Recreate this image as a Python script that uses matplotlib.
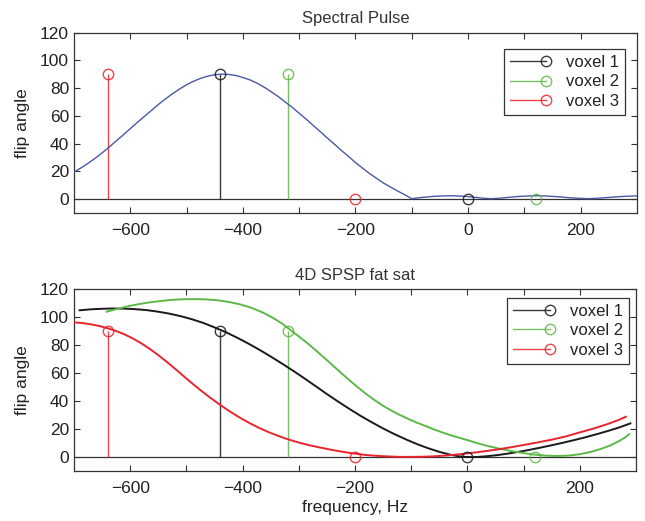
import numpy as np
import matplotlib
matplotlib.use("Agg")
import matplotlib.pyplot as plt
from matplotlib.legend_handler import HandlerLine2D
from matplotlib.lines import Line2D

plt.rcParams["font.family"] = ["Liberation Sans", "DejaVu Sans"]

# voxel frequencies (Hz): water at 0 flip, fat at 90 flip
voxel_labels = ["voxel 1", "voxel 2", "voxel 3"]
voxel_water = [0, 120, -200]
voxel_fat = [-440, -320, -640]
stem_values = [90, 0]

# spectral pulse profile (top panel)
pulse_freq = [-700, -687, -675, -662, -650, -637, -625, -612, -600, -587, -575, -562,
              -550, -537, -525, -512, -500, -487, -475, -462, -450, -437, -425, -412,
              -400, -387, -375, -362, -350, -337, -325, -312, -300, -287, -275, -262,
              -250, -237, -225, -212, -200, -187, -175, -162, -150, -137, -125, -112,
              -100, -88, -75, -60, -45, -30, -15, 0, 12, 25, 40, 55, 70, 90, 110, 125,
              140, 160, 180, 200, 215, 230, 250, 270, 285, 300]
pulse_flip = [19.5, 22.6, 25.8, 29.5, 33.3, 37.6, 41.9, 46.4, 50.8, 55.4, 59.6, 64.0,
              68.2, 72.3, 75.9, 79.4, 82.4, 85.0, 87.0, 88.6, 89.6, 90, 89.8, 89,
              87.6, 85.8, 83.5, 80.6, 77.4, 73.8, 70, 66, 61.8, 57.4, 53, 48.4,
              44, 39.4, 35, 30.6, 26.3, 22.2, 18.4, 14.8, 11.5, 8.5, 5.8, 3.0,
              0.3, 0.9, 1.5, 2.0, 2.3, 2.4, 2.2, 1.8, 1.3, 0.7, 0.3, 0.6, 1.2, 1.9, 2.3, 2.4,
              2.2, 1.7, 1.0, 0.5, 0.3, 0.6, 1.2, 1.8, 2.1, 2.3]

# 4D SPSP fat sat profiles (bottom panel)
v1_freq = [-690, -670, -650, -630, -610, -590, -570, -550, -530, -510, -490, -470,
           -450, -430, -410, -390, -370, -350, -330, -310, -290, -270, -250, -230,
           -210, -190, -170, -150, -130, -110, -90, -70, -50, -30, -15, 0, 15, 30,
           50, 70, 90, 110, 130, 150, 170, 190, 210, 230, 250, 270, 290]
v1_flip = [105.0, 105.7, 106.1, 106.3, 106.2, 105.8, 105.1, 104.0, 102.6, 100.8, 98.6, 96.0,
           92.8, 89.4, 85.5, 81.3, 76.8, 72.0, 67.0, 61.8, 56.4, 50.8, 45.2, 39.8,
           34.6, 29.6, 25.0, 20.6, 16.6, 12.9, 9.5, 6.5, 3.9, 1.8, 0.7, 0.2, 0.2, 0.6,
           1.4, 2.5, 3.8, 5.3, 6.9, 8.6, 10.4, 12.3, 14.3, 16.5, 18.8, 21.3, 24.2]

v2_freq = [-642, -625, -605, -585, -565, -545, -525, -505, -485, -465, -445, -425,
           -405, -385, -365, -345, -330, -315, -300, -285, -270, -255, -240, -225,
           -210, -195, -180, -165, -150, -135, -120, -105, -90, -75, -60, -45, -30,
           -15, 0, 20, 40, 60, 80, 100, 120, 140, 160, 180, 200, 220, 240, 255, 270,
           280, 288]
v2_flip = [104.0, 105.8, 107.8, 109.4, 110.7, 111.7, 112.5, 112.9, 113.0, 112.8, 112.2, 111.0,
           109.3, 106.9, 103.6, 99.4, 95.6, 91.0, 86.4, 81.6, 76.5, 71.2, 65.8, 60.4,
           55.1, 50.0, 45.2, 40.8, 36.8, 33.3, 30.2, 27.4, 24.8, 22.4, 20.0, 17.8, 15.8,
           14.0, 12.3, 9.8, 7.7, 5.9, 4.3, 3.0, 1.9, 1.2, 0.9, 1.2, 2.2, 3.9, 6.3, 8.6, 11.6,
           14.0, 16.5]

v3_freq = [-700, -685, -670, -655, -640, -625, -610, -595, -580, -565, -550, -535,
           -520, -505, -490, -475, -460, -445, -430, -415, -400, -385, -370, -355,
           -340, -325, -310, -295, -280, -260, -240, -220, -200, -180, -160, -140,
           -120, -100, -80, -60, -40, -20, 0, 25, 50, 75, 100, 125, 150, 175, 200,
           225, 250, 270, 282]
v3_flip = [96.4, 95.9, 95.0, 93.8, 92.2, 90.2, 87.8, 84.8, 81.4, 77.4, 73.0, 68.2,
           63.2, 58.0, 52.9, 48.0, 43.3, 38.9, 34.7, 30.8, 27.2, 23.9, 20.9, 18.2,
           15.8, 13.6, 11.7, 10.0, 8.5, 6.8, 5.2, 3.8, 2.6, 1.6, 1.0, 0.6,
           0.3, 0.3, 0.4, 0.7, 1.2, 1.9, 2.8, 4.0, 5.4, 7.0, 8.8, 10.6, 12.6, 14.9, 17.8,
           20.6, 23.8, 26.8, 29.0]

colors = ["#1a1a1a", "#5cb848", "#e8242c"]
pulse_color = "#4a58a8"
frame_color = "#333333"


class EndMarkerHandler(HandlerLine2D):
    # MATLAB-style legend entry: line with the marker at its right end
    def create_artists(self, legend, orig_handle, xdescent, ydescent, width, height,
                       fontsize, trans):
        y = height / 2 - ydescent
        line = Line2D([-xdescent, -xdescent + width], [y, y], markevery=[1])
        self.update_prop(line, orig_handle, legend)
        line.set_transform(trans)
        return [line]


def style_axes(ax, title):
    ax.set_xlim(-700, 300)
    ax.set_ylim(-10, 120)
    ax.set_xticks(range(-600, 300, 100))
    ax.set_xticklabels([str(t).replace("-", "\u2212") if t % 200 == 0 else ""
                        for t in range(-600, 300, 100)])
    ax.set_yticks(range(0, 121, 20))
    ax.tick_params(direction="in", top=True, right=True, length=4, width=0.8,
                   colors=frame_color, labelcolor="#222222", labelsize=12.5)
    ax.tick_params(axis="x", pad=7)
    ax.tick_params(axis="y", pad=3.5)
    for spine in ax.spines.values():
        spine.set_color(frame_color)
        spine.set_linewidth(0.9)
    ax.set_ylabel("flip angle", fontsize=12.5, labelpad=7, color="#222222")
    ax.set_title(title, fontsize=12, pad=7, color="#333333")
    ax.axhline(0, color=frame_color, lw=0.9, zorder=1)


def draw_stems(ax):
    for i in range(3):
        xs = [voxel_fat[i], voxel_water[i]]
        ax.vlines(xs, 0, stem_values, color=colors[i], lw=1.0, alpha=0.85, zorder=2)
        ax.plot(xs, stem_values, "o", ms=7.5, mfc="none", mec=colors[i], mew=1.0,
                alpha=0.85, zorder=4)


def add_legend(ax, anchor):
    handles = [Line2D([], [], color=colors[i], lw=1.0, marker="o", ms=7.5,
                      mfc="none", mec=colors[i], alpha=0.85) for i in range(3)]
    leg = ax.legend(handles, voxel_labels, loc="upper right", bbox_to_anchor=anchor,
                    fontsize=12, handlelength=2.2, handletextpad=1.2, labelspacing=0.28,
                    borderpad=0.35, borderaxespad=0, fancybox=False, framealpha=1,
                    edgecolor=frame_color,
                    handler_map={Line2D: EndMarkerHandler()})
    leg.get_frame().set_linewidth(0.9)
    for t in leg.get_texts():
        t.set_color("#222222")


fig = plt.figure(figsize=(6.45, 5.21), dpi=100)
ax1 = fig.add_axes([0.1147, 0.5912, 0.8729, 0.3464])
ax2 = fig.add_axes([0.1147, 0.0954, 0.8713, 0.3493])

# top panel
style_axes(ax1, "Spectral Pulse")
ax1.plot(pulse_freq, pulse_flip, color=pulse_color, lw=1.0, zorder=3)
draw_stems(ax1)
add_legend(ax1, (0.979, 0.909))

# bottom panel
style_axes(ax2, "4D SPSP fat sat")
ax2.plot(v1_freq, v1_flip, color=colors[0], lw=1.4, zorder=3)
ax2.plot(v2_freq, v2_flip, color=colors[1], lw=1.4, zorder=3)
ax2.plot(v3_freq, v3_flip, color=colors[2], lw=1.4, zorder=3)
draw_stems(ax2)
add_legend(ax2, (0.9875, 0.954))
ax2.set_xlabel("frequency, Hz", fontsize=12.5, labelpad=3, color="#222222")

fig.savefig("out.png", dpi=100)
